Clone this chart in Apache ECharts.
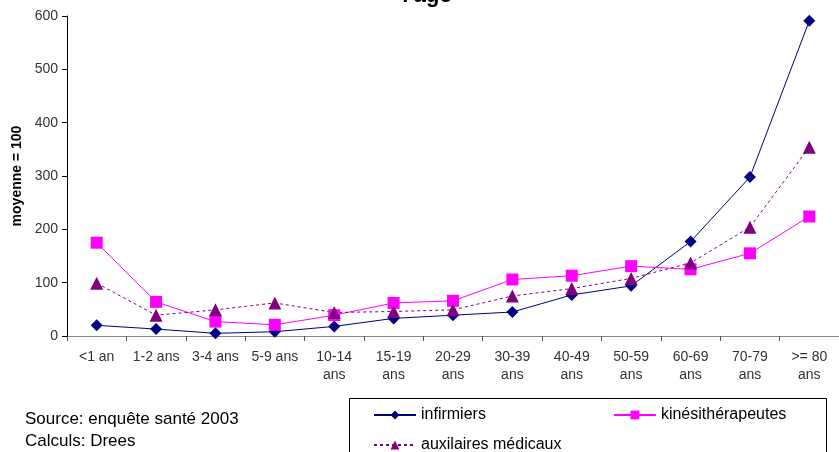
<!DOCTYPE html>
<html><head><meta charset="utf-8">
<script src="https://cdn.jsdelivr.net/npm/echarts@6/dist/echarts.min.js"></script>
<style>html,body{margin:0;padding:0;background:#fff}#c{width:839px;height:452px}</style>
</head><body><div id="c"></div>
<script>
const categories = ['<1 an','1-2 ans','3-4 ans','5-9 ans','10-14\nans','15-19\nans','20-29\nans','30-39\nans','40-49\nans','50-59\nans','60-69\nans','70-79\nans','>= 80\nans'];
const infirmiers = [20,13,5,8,18,33,39,45,77,94,177,298,591];
const kinesitherapeutes = [175,64,27,21,39,62,66,106,113,131,125,155,224];
const auxiliaires = [99,39,49,62,44,46,49,75,89,108,137,204,354];
const yTicks = {min:0, max:600, interval:100};

const chart = echarts.init(document.getElementById('c'), null, {renderer:'canvas'});
const font = 'Arial, "Liberation Sans", sans-serif';
chart.setOption({
  animation:false,
  backgroundColor:'#fff',
  textStyle:{fontFamily:font},
  grid:{left:67,right:0,top:16,bottom:116,containLabel:false},
  xAxis:{type:'category',data:categories,boundaryGap:true,
    axisLine:{lineStyle:{color:'#888',width:1}},
    axisTick:{show:true,length:5,lineStyle:{color:'#555'}},
    axisLabel:{interval:0,fontSize:14,color:'#333',margin:12,lineHeight:18,fontFamily:font}},
  yAxis:{type:'value',min:yTicks.min,max:yTicks.max,interval:yTicks.interval,
    name:'moyenne = 100',nameLocation:'middle',nameRotate:90,nameGap:43,
    nameTextStyle:{fontSize:14,fontWeight:'bold',color:'#000',fontFamily:font},
    splitLine:{show:false},
    axisLine:{show:true,lineStyle:{color:'#000',width:1}},
    axisTick:{show:true,length:5,lineStyle:{color:'#000'}},
    axisLabel:{fontSize:14,color:'#333',margin:9,fontFamily:font}},
  legend:[
    {data:['infirmiers','kinésithérapeutes'],left:373,top:407,padding:0,itemWidth:42,itemHeight:11,itemGap:127,
     textStyle:{fontSize:16,color:'#000',fontFamily:font}},
    {data:['auxilaires médicaux'],left:373,top:437,padding:0,itemWidth:42,itemHeight:11,
     textStyle:{fontSize:16,color:'#000',fontFamily:font}}
  ],
  graphic:[
    {type:'rect',shape:{x:349.5,y:398.5,width:477,height:70},style:{fill:'none',stroke:'#000',lineWidth:1},silent:true},
    {type:'text',x:25,y:419,style:{text:'Source: enquête santé 2003',font:'17px '+font,fill:'#000',textVerticalAlign:'middle'}},
    {type:'text',x:25,y:441,style:{text:'Calculs: Drees',font:'17px '+font,fill:'#000',textVerticalAlign:'middle'}},
    {type:'text',x:427,y:7,style:{text:"l'âge",font:'bold 22px '+font,fill:'#000',textAlign:'center',textVerticalAlign:'bottom'}}
  ],
  series:[
    {name:'infirmiers',type:'line',data:infirmiers,symbol:'diamond',symbolSize:12,
     lineStyle:{color:'#000080',width:1},itemStyle:{color:'#000080'}},
    {name:'kinésithérapeutes',type:'line',data:kinesitherapeutes,symbol:'rect',symbolSize:12,
     lineStyle:{color:'#FF00FF',width:1},itemStyle:{color:'#FF00FF'}},
    {name:'auxilaires médicaux',type:'line',data:auxiliaires,symbol:'triangle',symbolSize:13,
     lineStyle:{color:'#800080',width:1,type:[3,3]},itemStyle:{color:'#800080'}}
  ]
});
</script></body></html>
